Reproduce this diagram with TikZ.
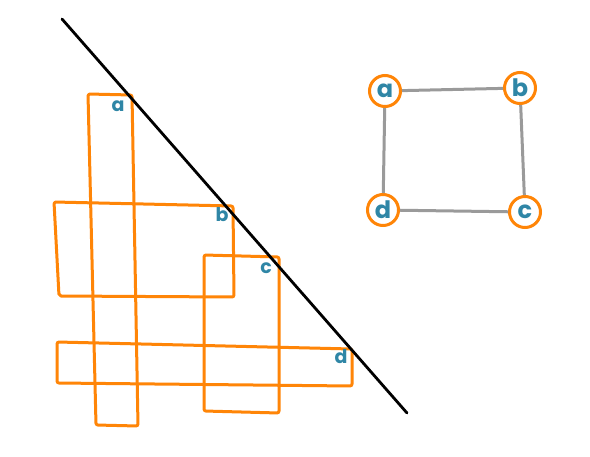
\documentclass[tikz,border=0pt]{standalone}
\usepackage{fontspec}
\setmainfont{Poppins}
\begin{document}
\begin{tikzpicture}[x=1pt,y=-1pt,
  rect/.style={draw=orangeC,line width=3pt,rounded corners=2pt,line join=round},
  lbl/.style={text=tealC,font=\bfseries\fontsize{19}{19}\selectfont,inner sep=0pt},
  vert/.style={circle,draw=orangeC,line width=3pt,minimum size=31pt,inner sep=0pt,text=tealC,font=\bfseries\fontsize{24}{24}\selectfont},
  edge/.style={draw=grayC,line width=3pt}]
\definecolor{orangeC}{HTML}{FF8507}
\definecolor{tealC}{HTML}{2F86A6}
\definecolor{grayC}{HTML}{9A9A9A}
\useasboundingbox[fill=white] (0,0) rectangle (590,456);
% rectangles
\draw[rect] (88,94) -- (132,95) -- (138,426) -- (96,425) -- cycle;
\draw[rect] (54,202) -- (233,206) -- (234,297) -- (59,296) -- cycle;
\draw[rect] (204,255) -- (279,257) -- (279,413) -- (204,411) -- cycle;
\draw[rect] (57,342) -- (352,349) -- (352,386) -- (57,383) -- cycle;
% diagonal line
\coordinate (p1) at (62,19);
\coordinate (p2) at (407,413);
\draw[line width=2.8pt,line cap=round] (p1) -- (p2);
% labels
\node[lbl] (la) at (118,106) {a};
\node[lbl] (lb) at (222,215) {b};
\node[lbl] (lc) at (266,268) {c};
\node[lbl] (ld) at (341,357) {d};
% graph
\node[vert] (a) at (385,91) {a};
\node[vert] (b) at (520,88) {b};
\node[vert] (c) at (525,212) {c};
\node[vert] (d) at (383,210) {d};
\draw[edge] (a) -- (b);
\draw[edge] (b) -- (c);
\draw[edge] (c) -- (d);
\draw[edge] (d) -- (a);
\end{tikzpicture}
\end{document}
